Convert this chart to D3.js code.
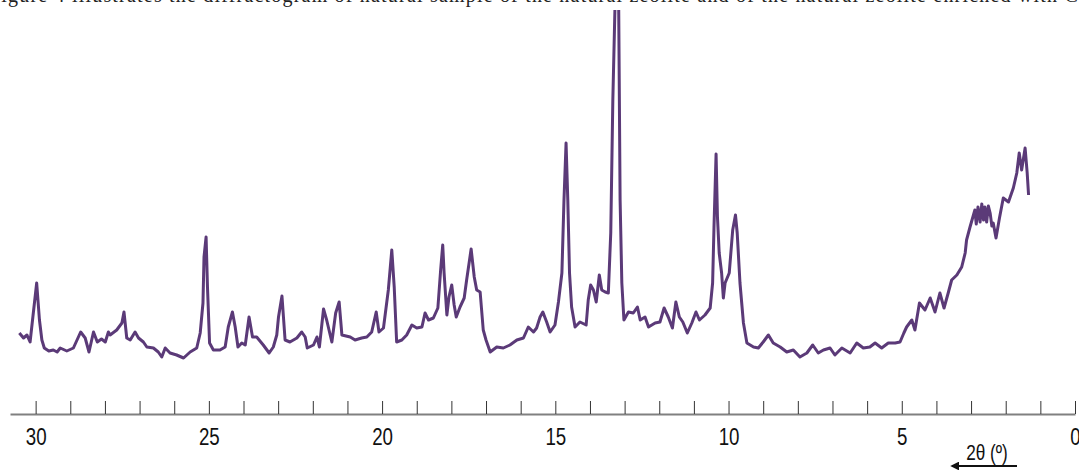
<!DOCTYPE html>
<html>
<head>
<meta charset="utf-8">
<script src="https://cdn.jsdelivr.net/npm/d3@7"></script>
<style>
  body { margin: 0; background: #fff; }
  svg { display: block; }
</style>
</head>
<body>
<svg width="1079" height="472"></svg>
<script>
// 2θ (degrees) and intensity (a.u.)
const theta = [
  30.47, 30.35, 30.25, 30.16, 30.08, 29.97, 29.89, 29.82, 29.75, 29.62, 29.49, 29.38, 29.29, 29.10, 28.91,
  28.70, 28.57, 28.46, 28.33, 28.22, 28.10, 27.99, 27.90, 27.85, 27.66, 27.51, 27.45, 27.37, 27.27, 27.13,
  27.03, 26.89, 26.79, 26.60, 26.46, 26.36, 26.26, 26.12, 25.93, 25.73, 25.54, 25.35, 25.25, 25.17, 25.14,
  25.08, 25.04, 24.98, 24.87, 24.68, 24.53, 24.44, 24.32, 24.24, 24.16, 24.05, 23.95, 23.84, 23.74, 23.62,
  23.43, 23.26, 23.14, 23.04, 22.99, 22.89, 22.80, 22.66, 22.46, 22.32, 22.22, 22.16, 21.98, 21.88, 21.81,
  21.69, 21.60, 21.45, 21.34, 21.24, 21.16, 20.92, 20.78, 20.59, 20.44, 20.30, 20.17, 20.09, 19.96, 19.82,
  19.72, 19.65, 19.58, 19.43, 19.29, 19.14, 19.00, 18.85, 18.76, 18.66, 18.52, 18.39, 18.31, 18.25, 18.21,
  18.13, 18.07, 17.99, 17.92, 17.86, 17.75, 17.63, 17.56, 17.43, 17.34, 17.27, 17.17, 17.08, 17.00, 16.88,
  16.69, 16.50, 16.31, 16.11, 15.92, 15.78, 15.63, 15.54, 15.44, 15.36, 15.25, 15.15, 15.01, 14.91, 14.81,
  14.75, 14.69, 14.64, 14.59, 14.53, 14.43, 14.29, 14.11, 14.05, 13.98, 13.90, 13.82, 13.73, 13.66, 13.56,
  13.47, 13.40, 13.34, 13.28, 13.23, 13.17, 13.13, 13.08, 13.02, 12.89, 12.75, 12.63, 12.55, 12.41, 12.31,
  12.12, 11.98, 11.86, 11.74, 11.62, 11.52, 11.42, 11.32, 11.19, 11.06, 10.94, 10.84, 10.68, 10.53, 10.46,
  10.42, 10.36, 10.32, 10.27, 10.20, 10.15, 10.10, 9.98, 9.88, 9.80, 9.75, 9.67, 9.57, 9.47, 9.28,
  9.14, 9.00, 8.85, 8.71, 8.51, 8.32, 8.13, 7.94, 7.74, 7.57, 7.41, 7.26, 7.07, 6.93, 6.73,
  6.49, 6.30, 6.11, 5.92, 5.77, 5.58, 5.39, 5.19, 5.05, 4.94, 4.86, 4.71, 4.62, 4.49, 4.33,
  4.18, 4.04, 3.90, 3.78, 3.66, 3.56, 3.41, 3.27, 3.17, 3.13, 3.03, 2.89, 2.85, 2.80, 2.74,
  2.69, 2.64, 2.60, 2.55, 2.50, 2.45, 2.40, 2.36, 2.28, 2.18, 2.07, 1.92, 1.78, 1.68, 1.61,
  1.54, 1.44, 1.38, 1.34
];
const intensity = [
  39, 34, 37, 30, 55, 89, 52, 32, 24, 21, 22, 20, 24, 21, 24,
  40, 34, 20, 40, 30, 33, 30, 40, 37, 42, 49, 60, 34, 32, 40,
  34, 30, 25, 24, 20, 15, 24, 19, 17, 14, 20, 24, 39, 69, 115,
  135, 85, 29, 22, 22, 25, 45, 60, 45, 25, 29, 27, 55, 35, 35,
  27, 19, 25, 37, 55, 76, 32, 30, 34, 40, 35, 24, 27, 35, 25,
  63, 52, 30, 59, 70, 37, 35, 32, 34, 35, 40, 60, 40, 44, 82,
  122, 85, 30, 32, 37, 47, 44, 45, 59, 52, 54, 64, 102, 127, 99,
  57, 75, 87, 67, 55, 65, 74, 92, 123, 95, 82, 80, 42, 32, 20,
  25, 24, 27, 32, 34, 45, 40, 44, 55, 60, 50, 40, 47, 70, 99,
  172, 229, 172, 99, 65, 45, 50, 47, 72, 87, 82, 70, 97, 82, 80,
  79, 139, 272, 362, 420, 362, 172, 89, 52, 60, 59, 65, 52, 55, 45,
  49, 50, 64, 55, 44, 70, 55, 50, 39, 49, 60, 52, 57, 64, 89,
  145, 218, 155, 119, 99, 74, 89, 99, 142, 157, 139, 89, 49, 29, 25,
  24, 30, 37, 29, 25, 20, 22, 15, 19, 27, 19, 22, 24, 17, 24,
  19, 29, 24, 25, 29, 24, 29, 29, 30, 39, 45, 52, 42, 69, 62,
  74, 60, 79, 64, 79, 92, 97, 105, 119, 132, 145, 162, 148, 165, 150,
  168, 152, 165, 150, 166, 159, 146, 149, 134, 154, 174, 170, 184, 199, 219,
  202, 224, 199, 177
];
const tickValues = d3.range(0, 31);
const tickLabels = [0, 5, 10, 15, 20, 25, 30];
const axisTitle = "2θ (º)";
const captionText = "Figure 4 illustrates the diffractogram of natural sample of the natural zeolite and of the natural zeolite enriched with Cu";

const svg = d3.select("svg");

const x = d3.scaleLinear().domain([30.74, 0]).range([10, 1075]);
const y = d3.scaleLinear().domain([0, 362]).range([372, 10]);

// text of the page above, cut by the picture edge
svg.append("text")
  .attr("x", -11)
  .attr("y", 2)
  .attr("font-family", "Liberation Serif, serif")
  .attr("font-size", 20)
  .attr("textLength", 1100)
  .attr("fill", "#222")
  .text(captionText);

svg.append("clipPath").attr("id", "clip")
  .append("rect").attr("x", 0).attr("y", 10).attr("width", 1079).attr("height", 400);

const line = d3.line()
  .x(d => x(d[0]))
  .y(d => y(d[1]));

svg.append("path")
  .datum(d3.zip(theta, intensity))
  .attr("clip-path", "url(#clip)")
  .attr("fill", "none")
  .attr("stroke", "#5b3a78")
  .attr("stroke-width", 3)
  .attr("stroke-linejoin", "round")
  .attr("d", line);

const axis = svg.append("g")
  .attr("transform", "translate(0,414)")
  .call(d3.axisBottom(x)
    .tickValues(tickValues)
    .tickSizeInner(-13)
    .tickSizeOuter(0)
    .tickPadding(14)
    .tickFormat(d => tickLabels.includes(d) ? d : ""));

axis.select(".domain").attr("stroke", "#808080").attr("stroke-width", 1.8);
axis.selectAll(".tick line").attr("stroke", "#333").attr("stroke-width", 1);
axis.selectAll(".tick text")
  .attr("font-family", "Liberation Sans, Arial, sans-serif")
  .attr("font-size", 24)
  .attr("fill", "#111")
  .attr("transform", "scale(0.78,1)");

// axis title with the arrow pointing to higher 2θ
svg.append("text")
  .attr("x", 987 / 0.78)
  .attr("y", 460)
  .attr("transform", "scale(0.78,1)")
  .attr("text-anchor", "middle")
  .attr("font-family", "Liberation Sans, Arial, sans-serif")
  .attr("font-size", 22)
  .attr("fill", "#111")
  .text(axisTitle);

svg.append("defs").append("marker")
  .attr("id", "head")
  .attr("viewBox", "0 0 10 10")
  .attr("refX", 8).attr("refY", 5)
  .attr("markerWidth", 4).attr("markerHeight", 4)
  .attr("orient", "auto")
  .append("path").attr("d", "M0,0L10,5L0,10Z").attr("fill", "#111");

svg.append("line")
  .attr("x1", 1017).attr("y1", 466)
  .attr("x2", 952).attr("y2", 466)
  .attr("stroke", "#111")
  .attr("stroke-width", 2.2)
  .attr("marker-end", "url(#head)");
</script>
</body>
</html>
